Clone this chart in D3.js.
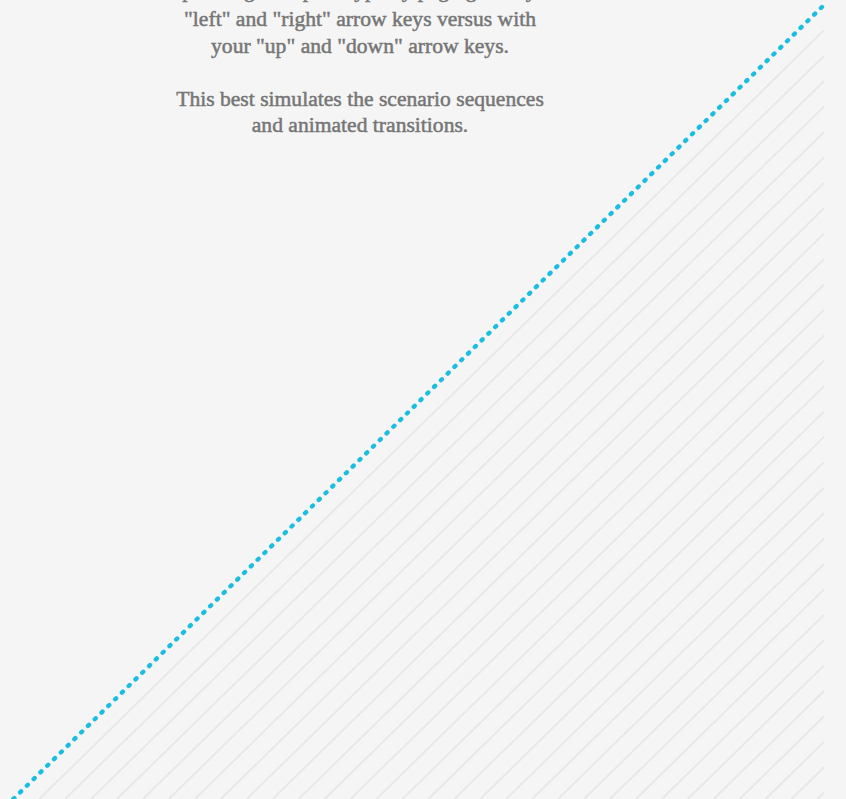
<!DOCTYPE html>
<html>
<head>
<meta charset="utf-8">
<script src="https://cdn.jsdelivr.net/npm/d3@7"></script>
<style>
  html, body { margin: 0; padding: 0; background: #f5f5f5; overflow: hidden; }
</style>
</head>
<body>
<div class="board"></div>
<script>
// the chart values
var lineX = [0, 100];
var lineY = [0, 100];
var hatchStep = 3.2; // spacing of the shaded lines, in data units
var noteLines = [
  'Step through the prototype by paging with your',
  '"left" and "right" arrow keys versus with',
  'your "up" and "down" arrow keys.',
  '',
  'This best simulates the scenario sequences',
  'and animated transitions.'
];
var noteBaselines = [-3, 26, 52.5, 79, 105.5, 131.5];

var width = 846, height = 799;

var svg = d3.select('.board').append('svg')
  .attr('width', width)
  .attr('height', height)
  .style('display', 'block');

svg.append('rect')
  .attr('width', width)
  .attr('height', height)
  .style('fill', '#f5f5f5');

var x = d3.scaleLinear().domain([0, 100]).range([13.3, 824]);
var y = d3.scaleLinear().domain([0, 100]).range([799, 5]);

var points = lineX.map(function (d, i) { return [d, lineY[i]]; });

// shaded lines under the diagonal, parallel to it
var offsets = d3.range(hatchStep, 100, hatchStep);
svg.append('g').selectAll('line')
  .data(offsets)
  .enter()
  .append('line')
  .attr('x1', function (k) { return x(k); })
  .attr('y1', y(0))
  .attr('x2', x(100))
  .attr('y2', function (k) { return y(100 - k); })
  .style('stroke', '#e7e7e7')
  .style('stroke-width', 1.8);

var line = d3.line()
  .x(function (d) { return x(d[0]); })
  .y(function (d) { return y(d[1]); });

svg.append('path')
  .datum(points)
  .attr('d', line)
  .style('fill', 'none')
  .style('stroke', '#1bbde0')
  .style('stroke-width', 4.4)
  .style('stroke-linecap', 'round')
  .style('stroke-dasharray', '1.4 8.1');

svg.append('g').selectAll('text')
  .data(noteLines)
  .enter()
  .append('text')
  .attr('x', 360)
  .attr('y', function (d, i) { return noteBaselines[i]; })
  .attr('text-anchor', 'middle')
  .style('font-family', '"Liberation Serif", "Times New Roman", serif')
  .style('font-size', '21.6px')
  .style('fill', '#767676')
  .style('stroke', '#767676')
  .style('stroke-width', 0.5)
  .text(function (d) { return d; });
</script>
</body>
</html>
